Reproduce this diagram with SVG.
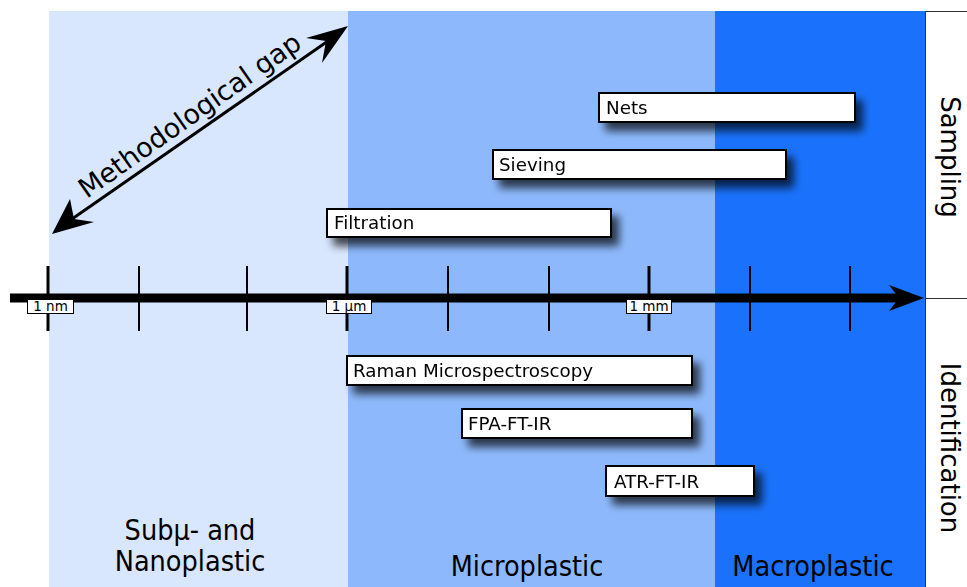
<svg xmlns="http://www.w3.org/2000/svg" width="967" height="587" viewBox="0 0 967 587">
<style>
text{font-family:"DejaVu Sans","Liberation Sans",sans-serif;fill:#000}
.box{fill:#fff;stroke:#000;stroke-width:2}
.bt{font-size:18.3px}
.tick{stroke:#000;stroke-width:2}
.major{stroke:#000;stroke-width:3}
.tl{fill:#fff;stroke:#000;stroke-width:1}
.tt{font-size:13.5px;text-anchor:middle}
.big{font-family:"DejaVu Sans Condensed","DejaVu Sans",sans-serif;font-stretch:condensed;font-size:28.5px;text-anchor:middle}
.side{font-size:26px;text-anchor:middle}
</style>
<defs>
<filter id="sh" x="-20%" y="-60%" width="150%" height="280%">
<feGaussianBlur in="SourceAlpha" stdDeviation="4"/>
<feOffset dx="7" dy="8" result="b"/>
<feComponentTransfer><feFuncA type="linear" slope="0.7"/></feComponentTransfer>
<feMerge><feMergeNode/><feMergeNode in="SourceGraphic"/></feMerge>
</filter>
</defs>
<g id="bands">
<rect x="49" y="11" width="299" height="576" fill="#d8e6fe"/>
<rect x="348" y="11" width="367" height="576" fill="#8db9fc"/>
<rect x="715" y="11" width="210" height="576" fill="#1a72fc"/>
</g>
<g id="side-panel" stroke="#333" stroke-width="1">
<line x1="925.5" y1="11" x2="925.5" y2="587"/>
<line x1="925" y1="11.5" x2="967" y2="11.5"/>
<line x1="925" y1="298.5" x2="967" y2="298.5"/>
</g>
<g id="axis">
<line x1="10" y1="298" x2="902" y2="298" stroke="#000" stroke-width="9"/>
<polygon points="924,298 889,285 899,298 889,311" fill="#000"/>
<line class="major" x1="48" y1="266" x2="48" y2="331"/>
<line class="tick" x1="139" y1="266" x2="139" y2="331"/>
<line class="tick" x1="247" y1="266" x2="247" y2="331"/>
<line class="major" x1="347" y1="266" x2="347" y2="331"/>
<line class="tick" x1="448" y1="266" x2="448" y2="331"/>
<line class="tick" x1="549" y1="266" x2="549" y2="331"/>
<line class="major" x1="649" y1="266" x2="649" y2="331"/>
<line class="tick" x1="750" y1="266" x2="750" y2="331"/>
<line class="tick" x1="850" y1="266" x2="850" y2="331"/>
<rect class="tl" x="27.5" y="299.5" width="46" height="14"/>
<text class="tt" x="50.5" y="311">1 nm</text>
<rect class="tl" x="326.5" y="299.5" width="45" height="14"/>
<text class="tt" x="349" y="311">1 µm</text>
<rect class="tl" x="626.5" y="299.5" width="45" height="14"/>
<text class="tt" x="649" y="311">1 mm</text>
</g>
<g id="connectors">
<line x1="72" y1="219" x2="328" y2="41" stroke="#000" stroke-width="3"/>
<polygon points="52,234 70,199 74,219 94,222" fill="#000"/>
<polygon points="348,26 306,38 326,41 322,63" fill="#000"/>
</g>
<g id="gap-label">
<text font-size="27" text-anchor="middle" transform="translate(195,123) rotate(-35.1)">Methodological gap</text>
</g>
<g id="nets" filter="url(#sh)">
<rect class="box" x="599" y="93" width="256" height="29"/>
<text class="bt" x="606" y="114">Nets</text>
</g>
<g id="sieving" filter="url(#sh)">
<rect class="box" x="493" y="150" width="293" height="29"/>
<text class="bt" x="499" y="171">Sieving</text>
</g>
<g id="filtration" filter="url(#sh)">
<rect class="box" x="327" y="209" width="284" height="28"/>
<text class="bt" x="334" y="229">Filtration</text>
</g>
<g id="raman" filter="url(#sh)">
<rect class="box" x="347" y="356" width="345" height="29"/>
<text class="bt" x="353" y="377">Raman Microspectroscopy</text>
</g>
<g id="fpa" filter="url(#sh)">
<rect class="box" x="462" y="409" width="230" height="29"/>
<text class="bt" x="468" y="430">FPA-FT-IR</text>
</g>
<g id="atr" filter="url(#sh)">
<rect class="box" x="606" y="466" width="148" height="30"/>
<text class="bt" x="614" y="488">ATR-FT-IR</text>
</g>
<g id="band-labels">
<text class="big" x="190" y="540">Subμ- and</text>
<text class="big" x="190" y="571">Nanoplastic</text>
<text class="big" x="527" y="576">Microplastic</text>
<text class="big" x="813" y="576">Macroplastic</text>
</g>
<g id="side-labels">
<text class="side" transform="translate(941,157) rotate(90)">Sampling</text>
<text class="side" transform="translate(941,448) rotate(90)">Identification</text>
</g>
</svg>
